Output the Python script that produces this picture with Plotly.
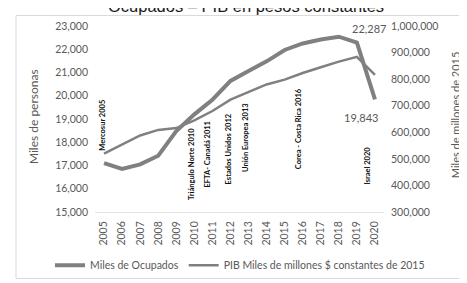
import plotly.graph_objects as go

years = [str(y) for y in range(2005, 2021)]
ocupados = [17100, 16850, 17050, 17420, 18480, 19200, 19830, 20640, 21060, 21480,
            21970, 22250, 22420, 22540, 22287, 19843]
pib = [520000, 555000, 588000, 609000, 616000, 645000, 680000, 723000, 752000, 780000,
       798000, 823000, 845000, 866000, 884000, 816000]

agreements = ["Mercosur 2005", "Triángulo Norte 2010", "EFTA- Canadá 2011",
              "Estados Unidos 2012", "Unión Europea 2013", "Corea - Costa Rica 2016",
              "Israel 2020"]
agreement_years = ["2005", "2010", "2011", "2012", "2013", "2016", "2020"]
agreement_ypix = [121, 161, 151, 145, 134, 124, 163]
agreement_xshift = [-1, -3, -5, -2.5, -2.5, -4, -7]

W, H = 467, 283
L, R, T, B = 87, 91, 16, 71
PW, PH = W - L - R, H - T - B

def px_x(p):
    return (p - L) / PW

def px_y(p):
    return (H - B - p) / PH

GRAY_LINE = "#808080"
TXT = "#595959"
FONT = "Lato"

fig = go.Figure()
fig.add_trace(go.Scatter(x=years, y=ocupados, mode="lines", name="Miles de Ocupados",
                         line=dict(color=GRAY_LINE, width=4), yaxis="y"))
fig.add_trace(go.Scatter(x=years, y=pib, mode="lines",
                         name="PIB Miles de millones $ constantes de 2015",
                         line=dict(color=GRAY_LINE, width=2.5), yaxis="y2"))

ann = []
for t, yr, yp, xs in zip(agreements, agreement_years, agreement_ypix, agreement_xshift):
    ann.append(dict(text="<b>" + t + "</b>", x=years.index(yr), xref="x", y=px_y(yp),
                    yref="paper", xshift=xs, textangle=-90, showarrow=False,
                    xanchor="center", yanchor="middle",
                    font=dict(family=FONT, size=7.5, color="#111111")))

# data labels
ann.append(dict(text=f"{ocupados[14]:,}", x=14, y=ocupados[14], xref="x", yref="y",
                xshift=12, yshift=14, showarrow=False,
                font=dict(family=FONT, size=11, color=TXT)))
ann.append(dict(text=f"{ocupados[15]:,}", x=15, y=ocupados[15], xref="x", yref="y",
                xshift=-14, yshift=-18, showarrow=False,
                font=dict(family=FONT, size=11, color=TXT)))

# axis titles
ann.append(dict(text="Miles de personas", x=px_x(25), y=px_y(112), xref="paper", yref="paper",
                textangle=-90, showarrow=False, xanchor="center", yanchor="middle",
                font=dict(family=FONT, size=12, color=TXT)))
ann.append(dict(text="Miles de millones de 2015", x=px_x(447), y=px_y(110), xref="paper",
                yref="paper", textangle=-90, showarrow=False, xanchor="center",
                yanchor="middle", font=dict(family=FONT, size=11, color=TXT)))

# partially visible title (cut at the top edge as in the source)
ann.append(dict(text="Ocupados – PIB en pesos constantes", x=px_x(238), y=px_y(6),
                xref="paper", yref="paper", showarrow=False, xanchor="center",
                yanchor="bottom", font=dict(family="Liberation Sans", size=16.5,
                                            color="#1a1a1a")))

fig.update_layout(
    width=W, height=H,
    margin=dict(l=L, r=R, t=T, b=B),
    paper_bgcolor="white", plot_bgcolor="white",
    showlegend=True,
    legend=dict(orientation="h", x=px_x(42), xanchor="left", y=px_y(268),
                yanchor="middle", font=dict(family=FONT, size=10.5, color=TXT),
                bgcolor="rgba(0,0,0,0)", tracegroupgap=0),
    xaxis=dict(type="category", range=[-0.5, 15.5], tickangle=-90, showgrid=False,
               showline=True, linecolor="#e3e3e3", linewidth=1, ticks="",
               ticklabelstandoff=4,
               tickfont=dict(family=FONT, size=10.5, color=TXT), zeroline=False),
    yaxis=dict(range=[15000, 23000], dtick=1000, tickformat=",d", showgrid=False,
               zeroline=False, ticks="", ticklabelstandoff=6,
               tickfont=dict(family=FONT, size=10.5, color=TXT)),
    yaxis2=dict(range=[300000, 1000000], dtick=100000, tickformat=",d", overlaying="y",
                side="right", showgrid=False, zeroline=False, ticks="",
                ticklabelstandoff=6, tickfont=dict(family=FONT, size=10.5, color=TXT)),
    annotations=ann,
    shapes=[dict(type="rect", xref="paper", yref="paper", x0=px_x(8), x1=px_x(470),
                 y0=px_y(282), y1=px_y(5), line=dict(color="#d9d9d9", width=1),
                 fillcolor="rgba(0,0,0,0)", layer="below")],
)

fig.write_html("out.html")
